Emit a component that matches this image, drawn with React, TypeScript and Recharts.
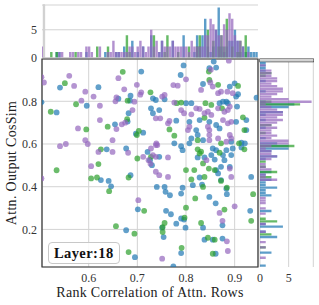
import React from 'react';
import {
  ScatterChart, Scatter, XAxis, YAxis, CartesianGrid, ReferenceArea,
  ReferenceLine, BarChart, Bar, Legend,
} from 'recharts';

// ---------- axes ----------
const X_DOMAIN: [number, number] = [0.504, 0.948];
const Y_DOMAIN: [number, number] = [0.024, 0.998];
const X_TICKS = [0.6, 0.7, 0.8, 0.9];
const Y_TICKS = [0.2, 0.4, 0.6, 0.8];
const HIST_TICKS = [0, 5];
const TOP_HIST_MAX = 9.47;
const RIGHT_HIST_MAX = 9.3;
const X_LABEL = 'Rank Correlation of Attn. Rows';
const Y_LABEL = 'Attn. Output CosSim';
const TAG = 'Layer:18';

// ---------- scatter points [rank corr, cos sim] ----------
const bluePts: [number, number][] = [
  [0.795, 0.968], [0.857, 0.986], [0.848, 0.955], [0.862, 0.958],
  [0.708, 0.939], [0.541, 0.864], [0.620, 0.866], [0.503, 0.795], [0.596, 0.779], [0.534, 0.748],
  [0.661, 0.812], [0.686, 0.826], [0.685, 0.803], [0.654, 0.692], [0.682, 0.744], [0.680, 0.705],
  [0.697, 0.648], [0.712, 0.653], [0.637, 0.575], [0.677, 0.579], [0.721, 0.563], [0.726, 0.524],
  [0.730, 0.501], [0.625, 0.431], [0.641, 0.427], [0.686, 0.454], [0.646, 0.402], [0.740, 0.399],
  [0.701, 0.294], [0.677, 0.196], [0.695, 0.070],
  [0.789, 0.923], [0.835, 0.881], [0.890, 0.869], [0.900, 0.884], [0.907, 0.833], [0.903, 0.822],
  [0.732, 0.814], [0.738, 0.806], [0.756, 0.809], [0.800, 0.791], [0.811, 0.791], [0.869, 0.791],
  [0.876, 0.798], [0.883, 0.798], [0.886, 0.791], [0.905, 0.775], [0.945, 0.817], [0.732, 0.744],
  [0.728, 0.767], [0.745, 0.759], [0.780, 0.709], [0.848, 0.704], [0.828, 0.712], [0.807, 0.704],
  [0.903, 0.704], [0.924, 0.712], [0.821, 0.665], [0.862, 0.689], [0.869, 0.673], [0.924, 0.665],
  [0.824, 0.642], [0.835, 0.618], [0.811, 0.626], [0.893, 0.611], [0.914, 0.606], [0.921, 0.603],
  [0.776, 0.603], [0.790, 0.590], [0.807, 0.603], [0.793, 0.571], [0.855, 0.579], [0.862, 0.571],
  [0.883, 0.571], [0.896, 0.579], [0.914, 0.584], [0.745, 0.540], [0.824, 0.537], [0.838, 0.537],
  [0.852, 0.548], [0.859, 0.527], [0.876, 0.548], [0.893, 0.548], [0.879, 0.524], [0.872, 0.493],
  [0.890, 0.493], [0.934, 0.446], [0.862, 0.478], [0.866, 0.462], [0.828, 0.443], [0.872, 0.431],
  [0.756, 0.399], [0.793, 0.395], [0.883, 0.391],
  [0.758, 0.376], [0.767, 0.360], [0.790, 0.368], [0.814, 0.407], [0.833, 0.410], [0.848, 0.352],
  [0.861, 0.322], [0.884, 0.365], [0.759, 0.287], [0.769, 0.271], [0.780, 0.227], [0.790, 0.251],
  [0.796, 0.246], [0.799, 0.208], [0.932, 0.287], [0.875, 0.219], [0.835, 0.208], [0.751, 0.208],
  [0.754, 0.164], [0.838, 0.152], [0.855, 0.152], [0.875, 0.157], [0.790, 0.089], [0.861, 0.086],
  [0.774, 0.027],
];

const greenPts: [number, number][] = [
  [0.551, 0.885], [0.670, 0.938], [0.574, 0.786], [0.522, 0.751], [0.680, 0.803], [0.595, 0.668],
  [0.639, 0.681], [0.679, 0.716], [0.703, 0.661], [0.699, 0.642], [0.625, 0.575], [0.700, 0.532],
  [0.620, 0.506], [0.534, 0.477], [0.605, 0.439], [0.617, 0.443], [0.682, 0.443],
  [0.642, 0.379], [0.714, 0.287], [0.656, 0.215], [0.694, 0.180], [0.682, 0.094],
  [0.847, 0.939], [0.848, 0.900], [0.907, 0.872], [0.866, 0.877], [0.727, 0.842], [0.781, 0.791],
  [0.790, 0.794], [0.840, 0.791], [0.852, 0.783], [0.874, 0.767], [0.838, 0.723], [0.917, 0.725],
  [0.766, 0.668], [0.920, 0.665], [0.776, 0.639], [0.824, 0.618], [0.872, 0.603], [0.909, 0.603],
  [0.824, 0.575], [0.831, 0.564], [0.828, 0.556], [0.869, 0.559], [0.920, 0.575], [0.728, 0.540],
  [0.835, 0.509], [0.847, 0.485], [0.859, 0.478], [0.800, 0.478], [0.811, 0.434], [0.817, 0.478],
  [0.835, 0.399], [0.838, 0.446],
  [0.872, 0.427], [0.884, 0.396], [0.938, 0.365], [0.819, 0.345], [0.800, 0.302], [0.879, 0.293],
  [0.797, 0.255], [0.934, 0.240], [0.831, 0.230], [0.756, 0.230], [0.752, 0.211], [0.752, 0.188],
  [0.845, 0.161], [0.859, 0.152], [0.791, 0.114], [0.855, 0.086],
];

const purplePts: [number, number][] = [
  [0.503, 0.913], [0.508, 0.888], [0.560, 0.919], [0.570, 0.872], [0.661, 0.908], [0.593, 0.845],
  [0.610, 0.822], [0.673, 0.856], [0.585, 0.803], [0.623, 0.779], [0.657, 0.818], [0.655, 0.800],
  [0.694, 0.798], [0.699, 0.877], [0.708, 0.842], [0.706, 0.831], [0.623, 0.712], [0.578, 0.673],
  [0.657, 0.670], [0.668, 0.692], [0.675, 0.700], [0.690, 0.759], [0.593, 0.618], [0.598, 0.600],
  [0.649, 0.618], [0.541, 0.590], [0.553, 0.600], [0.620, 0.563], [0.649, 0.563], [0.681, 0.559],
  [0.739, 0.603], [0.741, 0.595], [0.712, 0.540], [0.723, 0.524], [0.732, 0.548], [0.738, 0.540],
  [0.727, 0.507], [0.605, 0.496], [0.503, 0.439], [0.702, 0.337],
  [0.888, 0.990], [0.851, 0.948],
  [0.800, 0.903], [0.774, 0.876], [0.783, 0.873], [0.850, 0.888], [0.855, 0.869], [0.831, 0.853],
  [0.885, 0.845], [0.896, 0.838], [0.866, 0.838], [0.872, 0.845], [0.756, 0.830], [0.751, 0.822],
  [0.776, 0.794], [0.821, 0.767], [0.828, 0.764], [0.838, 0.744], [0.845, 0.751], [0.866, 0.767],
  [0.879, 0.751], [0.890, 0.775], [0.886, 0.759], [0.796, 0.744], [0.811, 0.739], [0.790, 0.759],
  [0.738, 0.720], [0.747, 0.720], [0.766, 0.708], [0.763, 0.697], [0.852, 0.736], [0.876, 0.712],
  [0.886, 0.697], [0.893, 0.704], [0.807, 0.681], [0.804, 0.665], [0.845, 0.681], [0.848, 0.665],
  [0.890, 0.642], [0.893, 0.626], [0.883, 0.611], [0.848, 0.642], [0.866, 0.626], [0.848, 0.618],
  [0.738, 0.595], [0.728, 0.579], [0.763, 0.537], [0.842, 0.524], [0.890, 0.485], [0.893, 0.446],
  [0.763, 0.446], [0.738, 0.470], [0.745, 0.454],
  [0.900, 0.308], [0.869, 0.277], [0.875, 0.240], [0.884, 0.144], [0.886, 0.099], [0.751, 0.063],
];

// ---------- top histogram (80 bins over the x range, left to right) ----------
const topBlue = [
  0, 0, 0, 0, 0, 1, 1, 0, 0, 0,
  0, 0, 0, 0, 0, 0, 1, 0, 0, 0,
  0, 0, 0, 1, 0, 0, 0, 1, 1, 0,
  2, 0, 0, 3, 0, 1, 0, 2, 0, 0,
  4, 0, 0, 1, 3, 0, 0, 0, 3, 0,
  0, 0, 4, 0, 0, 0, 1, 4, 2, 4,
  7, 2, 1, 2, 5, 9, 2, 1, 2, 3,
  3, 5, 3, 1, 2, 1, 2, 1, 1, 1,
];
const topGreen = [
  0, 0, 0, 1, 0, 1, 0, 0, 0, 0,
  0, 0, 1, 0, 0, 0, 0, 0, 0, 0,
  2, 0, 0, 0, 2, 0, 0, 0, 0, 0,
  0, 4, 1, 0, 0, 0, 0, 0, 0, 0,
  0, 4, 0, 0, 0, 1, 4, 0, 0, 0,
  1, 0, 0, 0, 2, 0, 0, 2, 4, 0,
  0, 5, 0, 3, 0, 2, 4, 2, 7, 0,
  2, 0, 1, 3, 0, 4, 0, 0, 0, 0,
];
const topPurple = [
  2, 0, 0, 0, 0, 0, 1, 1, 0, 0,
  1, 1, 0, 1, 1, 0, 2, 2, 1, 0,
  0, 2, 0, 0, 1, 1, 3, 1, 1, 1,
  1, 1, 2, 2, 1, 2, 3, 2, 1, 2,
  5, 2, 3, 1, 3, 2, 2, 2, 3, 2,
  2, 2, 2, 2, 1, 3, 2, 2, 2, 2,
  4, 4, 7, 6, 5, 4, 4, 6, 5, 8,
  7, 4, 3, 3, 2, 0, 1, 0, 0, 0,
];

// ---------- right histogram (80 bins over the y range, top to bottom) ----------
const rightBlue = [
  2, 1, 1, 1, 1, 0, 0, 0, 1, 0,
  0, 0, 1, 0, 0, 0, 1, 6, 5, 0,
  4, 1, 0, 1, 0, 0, 1, 0, 0, 0,
  1, 0, 3, 5, 5, 2, 0, 3, 1, 0,
  0, 0, 0, 2, 1, 0, 2, 1, 1, 3,
  1, 1, 2, 0, 0, 0, 0, 0, 2, 0,
  0, 0, 0, 1, 4, 0, 1, 0, 3, 0,
  0, 0, 0, 0, 2, 0, 0, 0, 0, 1,
];
const rightGreen = [
  0, 0, 0, 0, 0, 2, 1, 0, 0, 0,
  0, 0, 0, 0, 0, 0, 2, 7, 0, 0,
  0, 0, 0, 0, 0, 2, 0, 0, 1, 0,
  0, 0, 0, 6, 0, 0, 0, 0, 0, 1,
  0, 1, 0, 3, 0, 2, 0, 0, 0, 0,
  0, 0, 0, 0, 0, 0, 0, 0, 0, 0,
  0, 1, 3, 0, 0, 0, 0, 2, 0, 0,
  0, 0, 1, 0, 0, 0, 0, 0, 0, 0,
];
const rightPurple = [
  0, 0, 1, 0, 2, 2, 2, 3, 3, 2,
  3, 4, 4, 3, 2, 5, 9, 1, 2, 3,
  4, 4, 3, 4, 3, 2, 3, 2, 2, 3,
  2, 5, 5, 2, 1, 2, 2, 3, 2, 0,
  1, 1, 2, 0, 1, 1, 3, 0, 0, 0,
  0, 0, 0, 1, 1, 1, 0, 1, 0, 1,
  0, 0, 0, 1, 0, 0, 1, 0, 0, 0,
  1, 0, 1, 0, 0, 0, 1, 0, 0, 0,
];

// ---------- styling ----------
const W = 319;
const H = 305;
const BLUE = '#1f77b4';
const GREEN = '#2ca02c';
const PURPLE = '#9467bd';
const GRID = '#d3d3d3';
const FONT = '"Liberation Serif", "DejaVu Serif", serif';
const TICK = { fill: '#333', fontSize: 12, fontFamily: FONT };
const PT_OPACITY = 0.7;
const PT_R = 2.9;
const BAR_OPACITY = 0.72;

const MAIN_MARGIN = { top: 59, right: 61, bottom: 0, left: 0 };
const Y_AXIS_W = 42;
const X_AXIS_H = 38;
const TOP_MARGIN = { top: 5, right: 61, bottom: 247.5, left: 0 };
const RIGHT_MARGIN = { top: 59, right: 5.7, bottom: 0, left: 260 };

const toXY = (pts: [number, number][]) => pts.map(([x, y]) => ({ x, y }));

const topData = topBlue.map((b, i) => ({ i, b, g: topGreen[i], p: topPurple[i] }));
const rightData = rightBlue.map((b, i) => ({ i, b, g: rightGreen[i], p: rightPurple[i] }));

const TOP_BAR = (W - TOP_MARGIN.left - TOP_MARGIN.right - Y_AXIS_W) / topData.length;
const RIGHT_BAR = (H - RIGHT_MARGIN.top - RIGHT_MARGIN.bottom - X_AXIS_H) / rightData.length;

const dot = (color: string) => (p: any) => (
  <circle cx={p.cx} cy={p.cy} r={PT_R} fill={color} fillOpacity={PT_OPACITY} />
);

// tick renderer for the top histogram count axis
const CountTick = (p: any) => (
  <text x={p.x} y={p.y} dy="0.355em" textAnchor="end" fill={TICK.fill} fontSize={TICK.fontSize} fontFamily={FONT}>
    {String(p.payload.value)}
  </text>
);

const LayerTag = () => (
  <div
    style={{
      border: '1px solid #c8c8c8',
      borderRadius: 4,
      background: 'rgba(255,255,255,0.85)',
      padding: '1px 5px',
      fontFamily: FONT,
      fontWeight: 'bold',
      fontSize: 14.5,
      lineHeight: '18px',
      color: '#111',
      letterSpacing: 0.4,
      whiteSpace: 'nowrap',
    }}
  >
    {TAG}
  </div>
);

const layer: React.CSSProperties = { position: 'absolute', left: 0, top: 0 };

export default function App() {
  return (
    <div style={{ position: 'absolute', left: 0, top: 0, width: W, height: H, background: '#fff' }}>
      {/* main scatter */}
      <div style={layer}>
        <ScatterChart width={W} height={H} margin={MAIN_MARGIN}>
          <CartesianGrid stroke={GRID} strokeWidth={1} />
          <XAxis
            type="number" dataKey="x" domain={X_DOMAIN} ticks={X_TICKS} allowDataOverflow interval={0}
            height={X_AXIS_H} tickLine={false} axisLine={false} tickSize={3} tickMargin={3}
            tick={TICK} tickFormatter={(v: number) => v.toFixed(1)}
            label={{ value: X_LABEL, position: 'insideBottom', offset: 8, style: { fill: '#222', fontSize: 14, fontFamily: FONT, letterSpacing: 0.3 } }}
          />
          <YAxis
            type="number" dataKey="y" domain={Y_DOMAIN} ticks={Y_TICKS} allowDataOverflow interval={0}
            width={Y_AXIS_W} tickLine={false} axisLine={false} tickSize={3} tickMargin={2}
            tick={TICK} tickFormatter={(v: number) => v.toFixed(1)}
            label={{ value: Y_LABEL, angle: -90, position: 'insideLeft', offset: 11, style: { textAnchor: 'middle', fill: '#222', fontSize: 14, fontFamily: FONT, letterSpacing: 0.3 } }}
          />
          <Scatter data={toXY(bluePts)} fill={BLUE} shape={dot(BLUE)} isAnimationActive={false} />
          <Scatter data={toXY(greenPts)} fill={GREEN} shape={dot(GREEN)} isAnimationActive={false} />
          <Scatter data={toXY(purplePts)} fill={PURPLE} shape={dot(PURPLE)} isAnimationActive={false} />
          <ReferenceArea x1={X_DOMAIN[0]} x2={X_DOMAIN[1]} y1={Y_DOMAIN[0]} y2={Y_DOMAIN[1]} fill="none" fillOpacity={0} stroke="#333" strokeWidth={1.2} />
          <Legend
            layout="vertical" align="center" verticalAlign="middle"
            wrapperStyle={{ left: 48, top: 242, width: 'auto' }}
            content={() => <LayerTag />}
          />
        </ScatterChart>
      </div>

      {/* top marginal histogram */}
      <div style={layer}>
        <BarChart width={W} height={H} data={topData} margin={TOP_MARGIN} barCategoryGap={0} barGap={0}>
          <XAxis xAxisId={0} dataKey="i" type="category" hide />
          <XAxis xAxisId={1} dataKey="i" type="category" hide />
          <XAxis xAxisId={2} dataKey="i" type="category" hide />
          <XAxis xAxisId="num" type="number" domain={X_DOMAIN} allowDataOverflow hide />
          <YAxis
            yAxisId={0} type="number" domain={[-0.0001, TOP_HIST_MAX]} ticks={HIST_TICKS} allowDataOverflow interval={0}
            width={Y_AXIS_W} tickLine={false} axisLine={false} tickSize={3} tickMargin={2} tick={<CountTick />}
          />
          <CartesianGrid vertical={false} xAxisId={0} yAxisId={0} stroke={GRID} />
          {X_TICKS.map((t) => (
            <ReferenceLine key={t} xAxisId="num" yAxisId={0} x={t} stroke={GRID} />
          ))}
          <Bar xAxisId={0} yAxisId={0} dataKey="b" fill={BLUE} fillOpacity={BAR_OPACITY} barSize={TOP_BAR} isAnimationActive={false} />
          <Bar xAxisId={1} yAxisId={0} dataKey="g" fill={GREEN} fillOpacity={BAR_OPACITY} barSize={TOP_BAR} isAnimationActive={false} />
          <Bar xAxisId={2} yAxisId={0} dataKey="p" fill={PURPLE} fillOpacity={BAR_OPACITY} barSize={TOP_BAR} isAnimationActive={false} />
          <ReferenceArea xAxisId="num" yAxisId={0} x1={X_DOMAIN[0]} x2={X_DOMAIN[1]} y1={0} y2={TOP_HIST_MAX} fill="none" fillOpacity={0} stroke="#aaa" />
        </BarChart>
      </div>

      {/* right marginal histogram */}
      <div style={layer}>
        <BarChart layout="vertical" width={W} height={H} data={rightData} margin={RIGHT_MARGIN} barCategoryGap={0} barGap={0}>
          <YAxis yAxisId={0} dataKey="i" type="category" hide />
          <YAxis yAxisId={1} dataKey="i" type="category" hide />
          <YAxis yAxisId={2} dataKey="i" type="category" hide />
          <YAxis yAxisId="num" type="number" domain={Y_DOMAIN} allowDataOverflow hide />
          <XAxis
            xAxisId={0} type="number" domain={[0, RIGHT_HIST_MAX]} ticks={HIST_TICKS} allowDataOverflow interval={0}
            height={X_AXIS_H} tickLine={false} axisLine={false} tickSize={3} tickMargin={3} tick={TICK}
          />
          <CartesianGrid horizontal={false} xAxisId={0} yAxisId={0} stroke={GRID} />
          {Y_TICKS.map((t) => (
            <ReferenceLine key={t} xAxisId={0} yAxisId="num" y={t} stroke={GRID} />
          ))}
          <Bar xAxisId={0} yAxisId={0} dataKey="b" fill={BLUE} fillOpacity={BAR_OPACITY} barSize={RIGHT_BAR} isAnimationActive={false} />
          <Bar xAxisId={0} yAxisId={1} dataKey="g" fill={GREEN} fillOpacity={BAR_OPACITY} barSize={RIGHT_BAR} isAnimationActive={false} />
          <Bar xAxisId={0} yAxisId={2} dataKey="p" fill={PURPLE} fillOpacity={BAR_OPACITY} barSize={RIGHT_BAR} isAnimationActive={false} />
          <ReferenceArea xAxisId={0} yAxisId="num" x1={0} x2={RIGHT_HIST_MAX} y1={Y_DOMAIN[0]} y2={Y_DOMAIN[1]} fill="none" fillOpacity={0} stroke="#333" strokeWidth={1.2} />
        </BarChart>
      </div>
    </div>
  );
}
